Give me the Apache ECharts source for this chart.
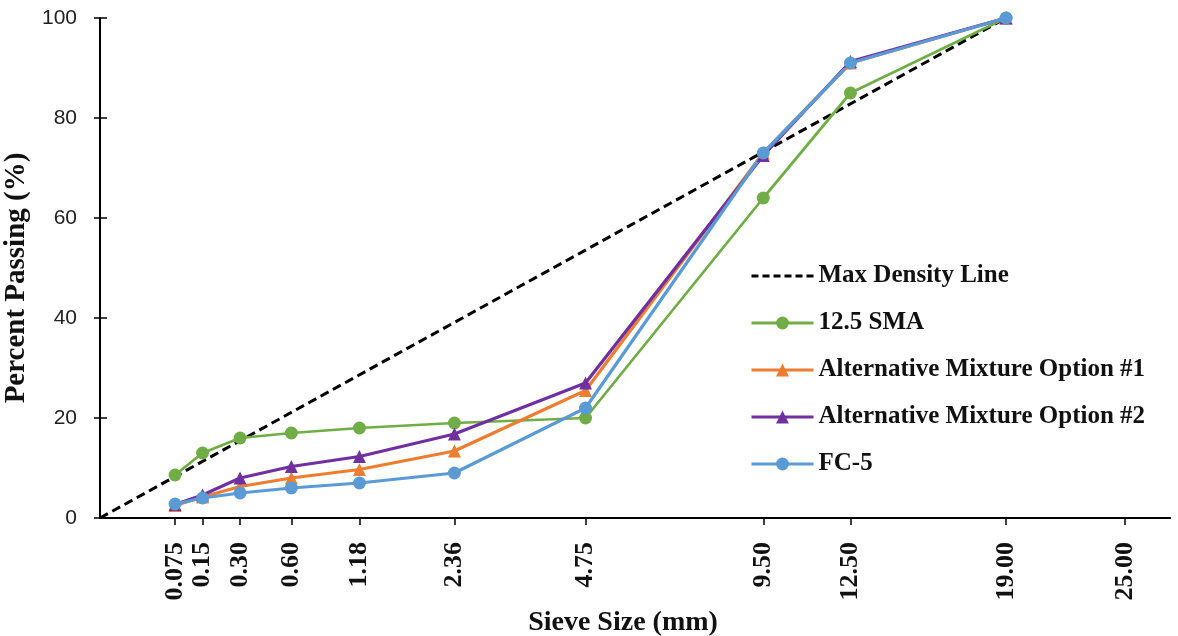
<!DOCTYPE html>
<html><head><meta charset="utf-8">
<script src="https://cdn.jsdelivr.net/npm/echarts@6/dist/echarts.min.js"></script>
<style>html,body{margin:0;padding:0;background:#fff}#c{width:1178px;height:636px}</style>
</head><body><div id="c"></div>
<script>
const sieveSizes = [0.075, 0.15, 0.30, 0.60, 1.18, 2.36, 4.75, 9.50, 12.50, 19.00];
const tickSizes = [0.075, 0.15, 0.30, 0.60, 1.18, 2.36, 4.75, 9.50, 12.50, 19.00, 25.00];
const tickLabels = ['0.075', '0.15', '0.30', '0.60', '1.18', '2.36', '4.75', '9.50', '12.50', '19.00', '25.00'];
const maxDensitySizes = [0, 19.00];
const maxDensityValues = [0, 100];
const sma125 = [8.6, 13, 16, 17, 18, 19, 20, 64, 85, 100];
const option1 = [2.5, 4.2, 6.3, 8, 9.7, 13.4, 25.5, 73, 91, 100];
const option2 = [2.7, 4.6, 8, 10.3, 12.3, 16.8, 27, 72.5, 91.3, 100];
const fc5 = [2.8, 4, 5, 6, 7, 9, 22, 73, 91, 100];

const P = 0.45;
const tx = s => Math.pow(s, P);
const pts = (xs, ys) => xs.map((s, i) => [tx(s), ys[i]]);
const tickVals = tickSizes.map(tx);
const labelFor = v => {
  let best = 0, bd = Infinity;
  tickVals.forEach((t, i) => { const d = Math.abs(t - v); if (d < bd) { bd = d; best = i; } });
  return tickLabels[best];
};

const serif = 'Liberation Serif';
const XMAX = 4.443;
const chart = echarts.init(document.getElementById('c'));
const mk = (name, data, color, symbol, size, width) => ({
  name, type: 'line', data, symbol, symbolSize: size,
  itemStyle: { color }, lineStyle: { color, width }, z: 3
});
chart.setOption({
  animation: false,
  grid: { left: 100, right: 8, top: 18, bottom: 118, containLabel: false, outerBoundsMode: 'none' },
  legend: {
    orient: 'vertical', left: 745, top: 258,
    itemWidth: 62, itemHeight: 16, itemGap: 21,
    lineStyle: { width: 3 },
    textStyle: { fontFamily: serif, fontWeight: 'bold', fontSize: 25, color: '#111', lineHeight: 26 },
    data: [
      { name: 'Max Density Line', itemStyle: { opacity: 0 }, lineStyle: { width: 3, type: [7, 4], color: '#000' } },
      '12.5 SMA', 'Alternative Mixture Option #1', 'Alternative Mixture Option #2', 'FC-5']
  },
  xAxis: [{
    type: 'value', min: 0, max: XMAX,
    name: 'Sieve Size (mm)', nameLocation: 'middle', nameGap: 82,
    nameTextStyle: { fontFamily: serif, fontWeight: 'bold', fontSize: 28, color: '#111', padding: [0, 24, 0, 0] },
    axisLine: { lineStyle: { color: '#000', width: 2 } },
    axisTick: { show: true, customValues: tickVals, length: 7, lineStyle: { color: '#000', width: 1.5 } },
    axisLabel: { customValues: tickVals, rotate: 90, margin: 24, formatter: v => labelFor(v),
      fontFamily: serif, fontWeight: 'bold', fontSize: 26, color: '#111' },
    splitLine: { show: false }
  }, {
    type: 'value', min: 0, max: XMAX, position: 'top',
    axisLine: { show: true, lineStyle: { color: '#000', width: 2 } },
    axisTick: { show: false }, axisLabel: { show: false }, splitLine: { show: false }
  }],
  yAxis: [{
    type: 'value', min: 0, max: 100, interval: 20,
    name: 'Percent Passing (%)', nameLocation: 'middle', nameGap: 62,
    nameTextStyle: { fontFamily: serif, fontWeight: 'bold', fontSize: 29, color: '#111', padding: [0, 20, 0, 0] },
    axisLine: { show: true, lineStyle: { color: '#000', width: 2 } },
    axisTick: { show: true, length: 6, lineStyle: { color: '#000', width: 1.5 } },
    axisLabel: { fontFamily: 'Liberation Sans', fontSize: 21, color: '#222', margin: 23 },
    splitLine: { show: false }
  }, {
    type: 'value', min: 0, max: 100, interval: 20, position: 'left',
    axisLine: { show: false },
    axisTick: { show: true, inside: true, length: 7, lineStyle: { color: '#000', width: 1.5 } },
    axisLabel: { show: false }, splitLine: { show: false }
  }],
  series: [
    { name: 'Max Density Line', type: 'line', data: pts(maxDensitySizes, maxDensityValues), symbol: 'none',
      itemStyle: { color: '#000' }, lineStyle: { color: '#000', width: 3, type: [9, 5] }, z: 2 },
    mk('12.5 SMA', pts(sieveSizes, sma125), '#70AD47', 'circle', 13, 2.75),
    mk('Alternative Mixture Option #1', pts(sieveSizes, option1), '#ED7D31', 'triangle', 13, 3.25),
    mk('Alternative Mixture Option #2', pts(sieveSizes, option2), '#7030A0', 'triangle', 13, 3.25),
    mk('FC-5', pts(sieveSizes, fc5), '#5B9BD5', 'circle', 13, 3.25)
  ]
});
</script></body></html>
